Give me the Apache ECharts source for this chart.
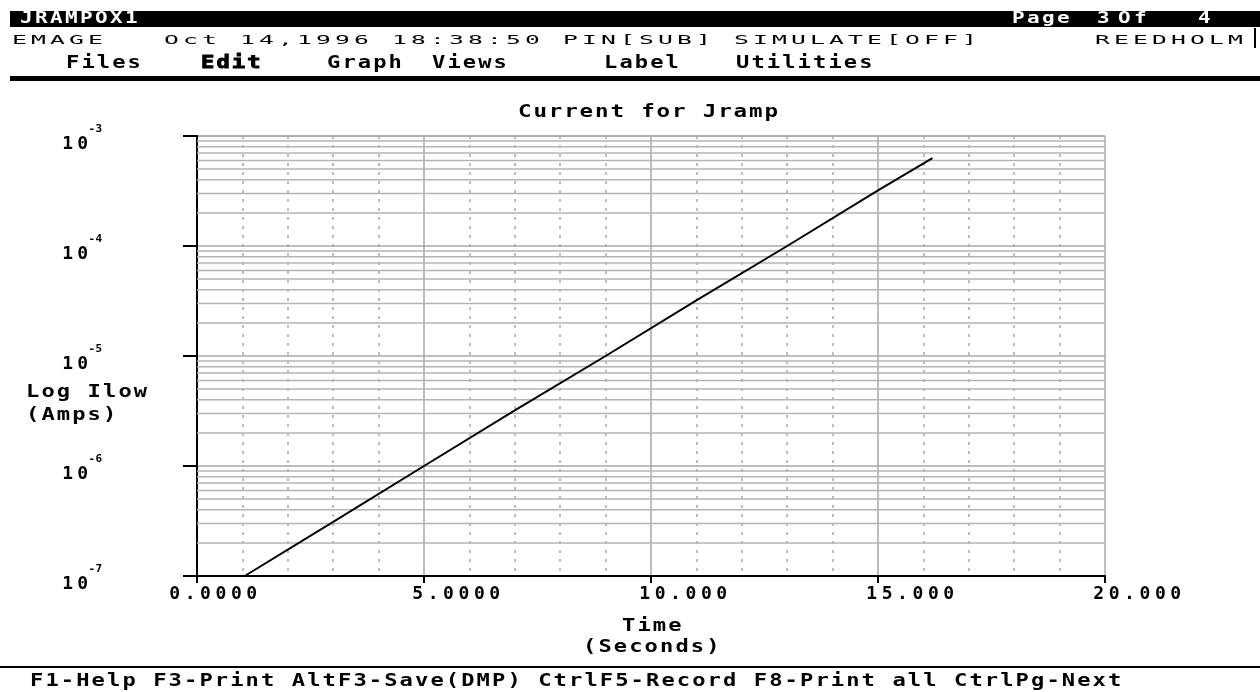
<!DOCTYPE html>
<html><head><meta charset="utf-8">
<script src="https://cdn.jsdelivr.net/npm/echarts@6/dist/echarts.min.js"></script>
<style>html,body{margin:0;padding:0;background:#fff}#c{width:1260px;height:692px}</style>
</head><body><div id="c"></div>
<script>
// ---- data ----
const timeS    = [1.05, 3.0, 5.0, 7.0, 9.0, 11.0, 13.0, 15.0, 16.2];
const currentA = [1.0e-7, 3.1e-7, 1.0e-6, 3.2e-6, 1.0e-5, 3.2e-5, 1.0e-4, 3.2e-4, 6.3e-4];
const xTickValues = [0, 5, 10, 15, 20];
const xTickLabels = ['0.0000', '5.0000', '10.000', '15.000', '20.000'];
const yDecadeExps = [-7, -6, -5, -4, -3];
const minorFactors = [2, 3, 4, 5, 6, 7, 8, 9];
const chartTitle = 'Current for Jramp';
const yName1 = 'Log Ilow', yName2 = '(Amps)';
const xName1 = 'Time', xName2 = '(Seconds)';
const headLeft = 'JRAMPOX1';
const statusLine = 'EMAGE   Oct 14,1996 18:38:50 PIN[SUB] SIMULATE[OFF]      REEDHOLM';
const menuItems = ['Files', 'Edit', 'Graph', 'Views', 'Label', 'Utilities'];
const footer = 'F1-Help F3-Print AltF3-Save(DMP) CtrlF5-Record F8-Print all CtrlPg-Next';

// ---- helpers ----
const FAM = '"DejaVu Sans Mono"';
function mono(str, name) {
  return str.split('').map(c => '{' + name + '|' + c + '}').join('');
}
function txt(str, left, cy, o) {
  const sx = o.sx || 1;
  const tok = { width: o.pitch / sx, font: o.font, fill: o.fill || '#000' };
  if (o.stroke) { tok.stroke = o.stroke; tok.lineWidth = o.lw; }
  return { type: 'text', x: left, y: cy, scaleX: sx, z: 100, silent: true,
    style: { text: mono(str, 'c'), rich: { c: tok }, font: o.font, fill: o.fill || '#000',
      align: 'left', verticalAlign: 'middle', textAlign: 'left', textVerticalAlign: 'middle' } };
}
const B17 = { font: 'bold 17px ' + FAM, pitch: 15.4, sx: 1.3 };
const HEAD = { font: 'bold 15px ' + FAM, pitch: 15, sx: 1.4, fill: '#fff' };

const menuX = [66, 201, 327, 432, 604, 736];
const graphics = [
  { type: 'rect', shape: { x: 10, y: 11, width: 1250, height: 16 }, style: { fill: '#000' }, z: 90 },
  txt(headLeft, 20, 19, HEAD),
  txt('Page', 1012, 19, HEAD),
  txt('3', 1097, 19, HEAD),
  txt('Of', 1118, 19, Object.assign({}, HEAD, { pitch: 16 })),
  txt('4', 1198, 19, HEAD),
  txt(statusLine, 12, 41, { font: '13px ' + FAM, pitch: 19, sx: 1.9 }),
  { type: 'line', shape: { x1: 1255, y1: 28, x2: 1255, y2: 48 }, style: { stroke: '#000', lineWidth: 2 }, z: 90 },
  { type: 'rect', shape: { x: 10, y: 76, width: 1250, height: 5 }, style: { fill: '#000' }, z: 90 },
  txt(chartTitle, 518, 112, { font: 'bold 18px ' + FAM, pitch: 15.4, sx: 1.25 }),
  txt(yName1, 26, 393, B17),
  txt(yName2, 26, 416, B17),
  txt(xName1, 622, 627, B17),
  txt(xName2, 583, 648, B17),
  { type: 'rect', shape: { x: 0, y: 666, width: 1260, height: 2 }, style: { fill: '#000' }, z: 90 },
  txt(footer, 30, 682, B17)
];
menuItems.forEach((m, i) => {
  const o = Object.assign({}, B17);
  if (m === 'Edit') { o.stroke = '#000'; o.lw = 0.9; }
  graphics.push(txt(m, menuX[i], 64, o));
});

// minor log gridlines (2..9 x each decade), drawn through the axes as horizontal series
const minorVals = [];
yDecadeExps.slice(0, -1).forEach(e => minorFactors.forEach(f => minorVals.push(f * Math.pow(10, e))));
const gridSeries = minorVals.map(v => ({
  type: 'line', z: 1, silent: true, symbol: 'none', animation: false,
  data: [[0, v], [20, v]],
  lineStyle: { color: '#b4b4b4', width: 1.5 }
}));

const chart = echarts.init(document.getElementById('c'), null, { renderer: 'canvas' });
chart.setOption({
  animation: false,
  backgroundColor: '#fff',
  tooltip: { show: false },
  grid: { left: 197, right: 155, top: 136, bottom: 116, containLabel: false },
  xAxis: {
    type: 'value', min: 0, max: 20, interval: 5,
    axisLine: { show: true, onZero: false, lineStyle: { color: '#000', width: 2 } },
    axisTick: { show: true, length: 7, lineStyle: { color: '#000', width: 2 } },
    minorTick: { show: false, splitNumber: 5 },
    splitLine: { show: true, lineStyle: { color: '#a8a8a8', width: 1.5 } },
    minorSplitLine: { show: true, lineStyle: { color: '#a8a8a8', width: 1.5, type: [3, 6] } },
    axisLabel: {
      margin: 9,
      formatter: v => {
        const i = xTickValues.indexOf(v);
        const s = i >= 0 ? xTickLabels[i] : '';
        return (v === 0 ? '{sp0| }' : '{sp| }') + mono(s, 'd');
      },
      rich: {
        d: { width: 15.4, fontSize: 18, fontWeight: 'bold', fontFamily: 'DejaVu Sans Mono', color: '#000' },
        sp: { width: 64.4, fontSize: 18 },
        sp0: { width: 32.4, fontSize: 18 }
      }
    }
  },
  yAxis: {
    type: 'log', logBase: 10, min: 1e-7, max: 1e-3,
    axisLine: { show: true, onZero: false, lineStyle: { color: '#000', width: 2 } },
    axisTick: { show: true, length: 14, lineStyle: { color: '#000', width: 2 } },
    splitLine: { show: true, lineStyle: { color: '#a8a8a8', width: 1.5 } },
    axisLabel: {
      margin: 95, align: 'right',
      formatter: v => {
        const e = Math.round(Math.log10(v));
        return mono('10', 'd') + mono(String(e), 'e');
      },
      rich: {
        d: { width: 15, fontSize: 18, fontWeight: 'bold', fontFamily: 'DejaVu Sans Mono', color: '#000', lineHeight: 34, verticalAlign: 'bottom' },
        e: { width: 7, fontSize: 11, fontWeight: 'bold', fontFamily: 'DejaVu Sans Mono', color: '#000', verticalAlign: 'top', padding: [5, 0, 0, 0] }
      }
    }
  },
  graphic: { elements: graphics },
  series: gridSeries.concat([
    {
      type: 'line', z: 5, symbol: 'none', silent: true,
      data: timeS.map((t, i) => [t, currentA[i]]),
      lineStyle: { color: '#000', width: 2 }
    }
  ])
});
</script>
</body></html>
